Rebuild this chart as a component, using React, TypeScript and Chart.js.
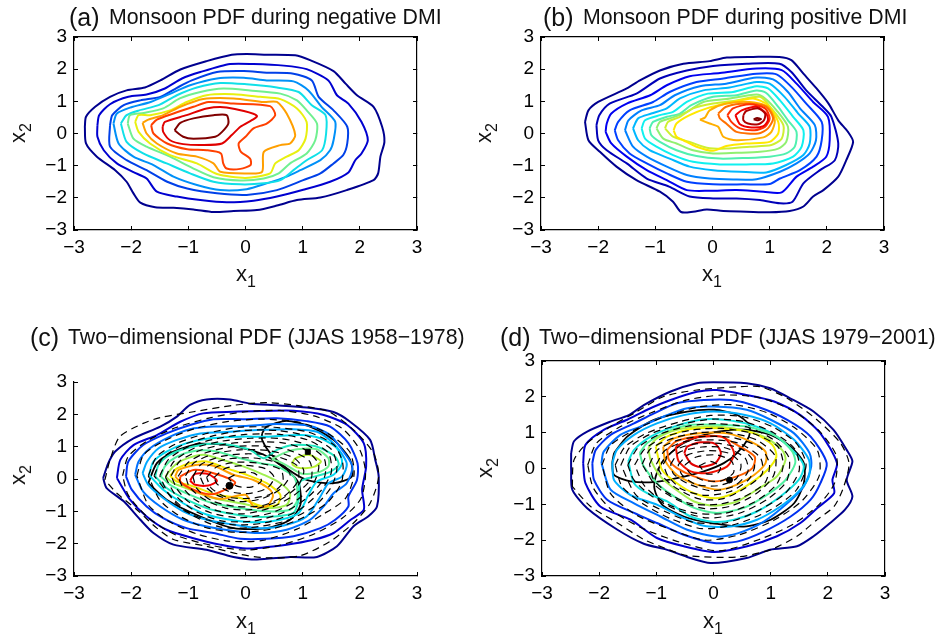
import React, { useEffect, useRef } from "react";
import { Chart, registerables } from "chart.js";

Chart.register(...registerables);

// ---------- tick values and labels ----------
const tickLabels = ["−3", "−2", "−1", "0", "1", "2", "3"];

// ---------- panel (a) contours: flat x1,x2 pairs, outermost first ----------
const a0 = [-2.81,.21,-2.79,.52,-2.63,.83,-2.37,1.14,-2.08,1.34,-1.76,1.43,-1.49,1.65,-1.14,1.99,-.68,2.25,-.24,2.45,.02,2.47,.37,2.45,.87,2.43,1.13,2.28,1.54,1.94,1.75,1.55,1.95,1.19,2.24,.83,2.39,.21,2.43,-.26,2.36,-.72,2.32,-1.24,2.24,-1.45,1.77,-1.76,1.31,-1.99,.9,-2.07,.55,-2.24,.2,-2.38,-.21,-2.41,-.56,-2.44,-.91,-2.36,-1.26,-2.31,-1.58,-2.29,-1.84,-2.15,-1.96,-1.86,-2.08,-1.5,-2.28,-1.14,-2.6,-.72,-2.79,-.31];
const a1 = [-2.59,.26,-2.56,.57,-2.37,.91,-2.05,1.14,-1.73,1.21,-1.41,1.4,-1.11,1.71,-.79,1.91,-.27,2.16,.14,2.16,.67,2.11,1.07,2,1.45,1.65,1.6,1.19,1.8,.93,2.03,.36,2.14,-.21,2.03,-.62,1.92,-.83,1.8,-1.21,1.48,-1.5,1.01,-1.75,.55,-1.96,.14,-2.09,-.33,-2.14,-.79,-2.07,-1.2,-1.96,-1.55,-1.81,-1.73,-1.4,-1.96,-1.2,-2.25,-.93,-2.48,-.52,-2.59,-.1];
const a2 = [-2.37,.26,-2.33,.57,-2.13,.88,-1.84,1.03,-1.49,1.14,-1.2,1.42,-.94,1.65,-.5,1.91,-.03,1.94,.37,1.89,.84,1.86,1.16,1.65,1.28,1.14,1.54,.72,1.78,.21,1.78,-.31,1.71,-.67,1.54,-.93,1.31,-1.24,1.01,-1.45,.55,-1.76,.02,-1.91,-.5,-1.86,-1.02,-1.71,-1.37,-1.5,-1.73,-1.14,-2.08,-.83,-2.37,-.41];
const a3 = [-2.31,.31,-2.25,.62,-2.01,.81,-1.66,.98,-1.31,1.24,-.97,1.5,-.5,1.71,-.03,1.73,.37,1.65,.84,1.62,1.1,1.34,1.33,.83,1.57,.36,1.54,-.21,1.48,-.52,1.31,-.83,.96,-1.14,.72,-1.34,.37,-1.55,.02,-1.73,-.44,-1.76,-.85,-1.6,-1.26,-1.34,-1.61,-.98,-1.96,-.72,-2.22,-.31];
const a4 = [-2.18,.31,-2.08,.57,-1.86,.72,-1.52,.88,-1.2,1.19,-.85,1.43,-.44,1.57,.02,1.53,.55,1.43,.93,1.29,1.16,.88,1.4,.57,1.41,0,1.34,-.52,1.07,-.83,.84,-1.14,.61,-1.45,.32,-1.55,-.09,-1.58,-.56,-1.5,-.97,-1.24,-1.38,-.93,-1.79,-.62,-2.08,-.26];
const a5 = [-2.06,.31,-2.02,.57,-1.78,.64,-1.44,.78,-1.15,1.09,-.79,1.29,-.39,1.4,.08,1.34,.61,1.24,.9,1.03,1.07,.72,1.25,.31,1.22,-.21,1.07,-.62,.78,-.93,.58,-1.24,.32,-1.4,-.09,-1.46,-.56,-1.36,-.91,-1.09,-1.32,-.72,-1.73,-.41,-1.96,-.16];
const a6 = [-1.93,.36,-1.87,.57,-1.67,.57,-1.32,.72,-1.03,.98,-.68,1.19,-.21,1.22,.26,1.14,.61,1.07,.9,.78,1.07,.36,1.05,-.16,.93,-.52,.72,-.72,.52,-.93,.43,-1.24,0,-1.38,-.5,-1.26,-.85,-.93,-1.32,-.67,-1.67,-.31,-1.87,.05];
const a7 = [-1.8,.33,-1.7,.43,-1.44,.57,-1.14,.83,-.74,1.07,-.21,1.09,.32,.98,.55,.98,.72,.62,.87,-.05,.78,-.31,.61,-.36,.32,-.57,.29,-1.19,.02,-1.24,-.44,-1.19,-.56,-.93,-.85,-.72,-1.2,-.62,-1.55,-.31,-1.73,0];
const a8 = [-1.65,.26,-1.55,.43,-1.26,.62,-.91,.83,-.65,.98,-.21,.93,.43,.85,.52,.57,.37,.31,.14,.16,0,-.1,-.12,-.31,-.08,-.57,.08,-.78,.09,-.98,-.09,-1.1,-.33,-1.09,-.39,-.93,-.43,-.62,-.68,-.52,-1.02,-.49,-1.37,-.31,-1.61,0];
const a9 = [-1.45,.21,-1.41,.36,-1.03,.57,-.68,.78,-.33,.81,.2,.55,-.09,.21,-.24,-.05,-.41,-.31,-.74,-.36,-1.09,-.33,-1.32,-.21,-1.44,.05];
const a10 = [-1.24,.1,-1.14,.33,-.91,.47,-.56,.57,-.33,.57,-.3,.31,-.41,.05,-.53,-.1,-.91,-.16,-1.09,-.1];

// ---------- panel (b) contours ----------
const b0 = [-2.23,.36,-2.17,.72,-2,.98,-1.5,1.4,-1.27,1.65,-.92,1.96,-.51,2.17,-.05,2.25,.25,2.36,.71,2.38,1.17,2.38,1.38,2.28,1.59,1.86,1.82,1.4,2.03,.93,2.2,.41,2.37,.05,2.46,-.26,2.34,-.83,2.2,-1.34,1.94,-1.76,1.76,-1.96,1.59,-2.27,1.35,-2.41,1,-2.45,.6,-2.43,.19,-2.41,-.1,-2.36,-.34,-2.43,-.55,-2.44,-.69,-2.12,-.92,-1.81,-1.33,-1.45,-1.68,-1.03,-1.97,-.57,-2.17,-.21];
const b1 = [-2.03,.26,-1.98,.57,-1.8,.93,-1.33,1.24,-.92,1.71,-.45,1.96,.01,2.1,.6,2.17,1.17,2.17,1.38,1.91,1.64,1.34,1.93,.83,2.08,.52,2.2,-.31,2.14,-.83,1.88,-1.14,1.59,-1.55,1.4,-2.12,1.18,-2.17,.83,-2.07,.42,-2.02,.01,-2.02,-.4,-1.96,-.76,-1.65,-1.15,-1.4,-1.5,-.93,-1.85,-.52,-2,-.21];
const b2 = [-1.87,.05,-1.85,.31,-1.77,.62,-1.5,.93,-1.09,1.19,-.8,1.5,-.4,1.78,.13,1.88,.77,2.02,1.21,1.97,1.47,1.55,1.76,.98,2.02,.52,2.05,-.21,1.99,-.72,1.76,-1.03,1.47,-1.34,1.21,-1.83,.89,-1.81,.42,-1.76,-.05,-1.78,-.45,-1.76,-.8,-1.45,-1.15,-1.14,-1.5,-.72,-1.77,-.31];
const b3 = [-1.71,.1,-1.65,.36,-1.45,.72,-1.04,.98,-.75,1.29,-.28,1.6,.19,1.71,.77,1.86,1.12,1.84,1.38,1.45,1.64,.93,1.91,.36,1.91,-.21,1.82,-.72,1.53,-1.14,1.18,-1.4,1,-1.57,.54,-1.58,.01,-1.58,-.45,-1.5,-.8,-1.24,-1.15,-.93,-1.45,-.62,-1.65,-.21];
const b4 = [-1.53,.1,-1.47,.41,-1.24,.72,-.92,.88,-.66,1.19,-.22,1.47,.24,1.55,.77,1.74,1.06,1.68,1.32,1.29,1.53,.78,1.79,.26,1.81,-.21,1.7,-.62,1.47,-.93,1.18,-1.19,.77,-1.42,.36,-1.43,-.05,-1.4,-.45,-1.29,-.8,-1.03,-1.15,-.72,-1.39,-.41];
const b5 = [-1.39,.16,-1.3,.47,-1.07,.62,-.8,.78,-.57,1.09,-.16,1.34,.3,1.43,.77,1.6,1,1.55,1.26,1.14,1.5,.62,1.7,.21,1.7,-.31,1.59,-.67,1.29,-.98,.94,-1.21,.48,-1.19,.01,-1.14,-.4,-1.03,-.75,-.78,-1.1,-.52,-1.3,-.21];
const b6 = [-1.24,.16,-1.18,.41,-.92,.57,-.69,.67,-.45,.98,-.08,1.24,.36,1.29,.77,1.47,.97,1.4,1.18,1.03,1.41,.52,1.59,.1,1.56,-.41,1.41,-.72,1.06,-.93,.59,-.96,.13,-.96,-.34,-.88,-.69,-.67,-.98,-.41,-1.18,-.16];
const b7 = [-1.1,.16,-1.04,.36,-.8,.52,-.57,.62,-.37,.88,.01,1.14,.42,1.19,.77,1.34,.94,1.26,1.15,.83,1.32,.41,1.47,.05,1.44,-.41,1.29,-.62,1,-.72,.59,-.76,.13,-.78,-.28,-.7,-.63,-.52,-.92,-.26,-1.07,-.05];
const b8 = [-.98,.16,-.92,.36,-.69,.5,-.45,.67,-.16,.98,.24,1.07,.77,1.21,.92,1.09,1.12,.72,1.32,.21,1.29,-.26,1.15,-.47,.83,-.57,.42,-.6,.01,-.62,-.34,-.52,-.63,-.31,-.86,-.16];
const b9 = [-.83,.16,-.78,.36,-.57,.52,-.34,.78,.01,.93,.42,1.03,.83,1.14,1.03,.78,1.24,.26,1.21,-.16,1.03,-.36,.65,-.41,.24,-.47,-.1,-.44,-.4,-.26,-.69,-.1];
const b10 = [-.68,.1,-.63,.31,-.4,.57,-.1,.78,.24,.93,.71,1.09,.97,.88,1.15,.36,1.15,0,1,-.26,.59,-.31,.24,-.39,.01,-.54,-.28,-.41,-.51,-.21,-.63,-.1];
const b11 = [-.22,.43,-.13,.5,-.05,.72,.24,.93,.65,.98,.97,.83,1.09,.41,1.03,.05,.89,-.12,.42,-.21,.19,-.1,.1,.21,-.05,.31];
const b12 = [.1,.62,.24,.83,.59,.93,.94,.83,1.06,.47,.97,.16,.8,0,.42,.05,.24,.31,.13,.47];
const b13 = [.26,.57,.36,.78,.65,.91,.92,.78,1,.47,.92,.21,.74,.1,.48,.16,.33,.36];
const b14 = [.4,.57,.51,.72,.77,.83,.94,.62,.97,.41,.89,.23,.68,.19,.48,.29];
const b15 = [.54,.57,.59,.7,.8,.78,.92,.62,.9,.41,.8,.29,.62,.31,.54,.41];
const b16 = [.72,.44,.78,.48,.85,.45,.78,.41];

// ---------- panel (c) solid contours ----------
const c0 = [-2.49,.03,-2.4,.49,-2.28,.85,-1.96,1.26,-1.49,1.62,-1.2,1.93,-.97,2.29,-.68,2.46,-.27,2.46,.08,2.33,.55,2.28,1.07,2.21,1.54,2.07,1.83,1.77,2.18,1.21,2.27,.59,2.33,.08,2.3,-.85,2.15,-1.15,1.89,-1.46,1.6,-2.08,1.25,-2.41,.78,-2.41,.2,-2.49,-.21,-2.41,-.68,-2.19,-1.26,-2.03,-1.61,-1.67,-1.84,-1.26,-2.13,-.69,-2.43,-.28];
const c1 = [-2.25,.03,-2.19,.59,-1.96,1.05,-1.55,1.36,-1.14,1.77,-.74,2.03,-.21,2.08,.26,2.1,.84,2.11,1.37,1.98,1.78,1.67,2.07,1.1,2.11,.39,2.04,-.33,2.07,-.95,1.84,-1.26,1.54,-1.67,1.19,-1.88,.72,-2.03,.02,-2.15,-.44,-2.03,-.91,-1.83,-1.38,-1.57,-1.73,-1.16,-2.02,-.64];
const c2 = [-2.09,.08,-2.05,.54,-1.79,1.05,-1.38,1.41,-.97,1.67,-.56,1.85,-.03,1.85,.55,1.88,1.07,1.79,1.48,1.62,1.8,1.11,1.96,.49,1.95,-.03,1.8,-.54,1.8,-.85,1.57,-1.26,1.31,-1.52,.84,-1.77,.37,-1.85,-.09,-1.85,-.56,-1.67,-1.03,-1.52,-1.44,-1.21,-1.73,-.85,-1.99,-.33];
const c3 = [-1.93,.13,-1.87,.54,-1.67,.95,-1.32,1.31,-.97,1.54,-.56,1.62,-.03,1.64,.55,1.7,1.13,1.64,1.48,1.36,1.71,.85,1.87,.39,1.77,-.13,1.54,-.44,1.39,-.8,1.13,-1.26,.72,-1.57,.26,-1.67,-.27,-1.59,-.68,-1.47,-1.09,-1.26,-1.49,-.85,-1.79,-.39];
const c4 = [-1.8,.18,-1.72,.54,-1.52,.95,-1.2,1.21,-.79,1.41,-.27,1.46,.26,1.52,.84,1.54,1.25,1.46,1.54,1.1,1.77,.49,1.69,.08,1.45,-.13,1.31,-.54,1.07,-1.16,.67,-1.44,.26,-1.52,-.21,-1.41,-.68,-1.26,-1.09,-1,-1.44,-.59,-1.7,-.18];
const c5 = [-1.69,.13,-1.61,.54,-1.38,.85,-1.03,1.11,-.62,1.26,-.09,1.31,.37,1.31,.96,1.36,1.31,1.26,1.6,.95,1.69,.49,1.54,.13,1.25,-.08,1.1,-.49,.93,-1.05,.61,-1.26,.2,-1.34,-.27,-1.26,-.68,-1.1,-1.09,-.75,-1.44,-.33];
const c6 = [-1.58,.08,-1.52,.44,-1.32,.75,-1.03,.95,-.62,1.09,-.27,1.05,.08,.9,.32,.64,.55,.9,.84,1.05,1.25,1,1.57,.69,1.63,.44,1.49,.23,1.22,.08,.96,-.08,.93,-.64,.84,-1.05,.49,-1.16,.08,-1.16,-.33,-1.05,-.68,-.9,-1.03,-.64,-1.38,-.28];
const c7 = [.46,.61,.67,.8,.9,.92,1.25,.92,1.45,.64,1.45,.39,1.28,.21,.99,.16,.75,.39,.58,.54];
const c8 = [-1.48,.08,-1.41,.39,-1.2,.69,-.85,.88,-.5,.85,-.09,.64,.26,.49,.55,.39,.84,.08,.9,-.23,.9,-.69,.78,-.95,.37,-1,-.09,-.9,-.56,-.75,-.97,-.49,-1.32,-.18];
const c9 = [-1.4,.08,-1.26,.39,-1.09,.59,-.74,.75,-.39,.59,-.04,.39,.32,.13,.61,-.13,.78,-.44,.72,-.8,.37,-.9,-.09,-.75,-.56,-.59,-.97,-.33,-1.26,-.13];
const c10 = [.81,.46,.87,.64,1.1,.75,1.25,.64,1.32,.54,1.22,.39,1.05,.33,.9,.36];
const c11 = [-1.32,.1,-1.2,.33,-.97,.49,-.68,.54,-.33,.33,.02,.13,.37,-.13,.61,-.49,.55,-.8,.26,-.83,-.09,-.59,-.5,-.49,-.91,-.23,-1.2,-.08];
const c12 = [-1.23,.08,-1.17,.28,-.85,.44,-.56,.41,-.21,.13,.14,-.03,.43,-.33,.48,-.54,.37,-.85,.14,-.85,0,-.49,-.44,-.62,-.79,-.44,-1.09,-.18];
const c13 = [-1.14,.08,-.91,.28,-.56,.18,-.18,-.11,-.5,-.44,-.68,-.46,-.97,-.28,-1.14,-.08];
const c14 = [-.97,-.05,-.88,.16,-.65,.15,-.5,-.06,-.65,-.2,-.88,-.18];

// panel (c) dashed contours
const cd0 = [-2.46,-.03,-2.37,.59,-2.2,1.31,-1.79,1.72,-1.49,1.9,-.91,2.08,-.21,2.28,.37,2.36,.96,2.26,1.45,2.09,1.89,1.52,2.24,.8,2.33,.08,2.18,-.75,1.89,-1.36,1.48,-1.93,.96,-2.37,.37,-2.44,-.09,-2.33,-.68,-2.08,-1.26,-1.87,-1.55,-1.52,-1.9,-.95,-2.25,-.44];
const cd1 = [-2.15,.1,-2.05,.7,-1.7,1.2,-1.2,1.6,-.6,1.9,0,2.08,.6,2.12,1.2,1.95,1.7,1.55,2,.9,2.1,.2,2.02,-.6,1.7,-1.2,1.2,-1.7,.6,-2.05,0,-2.2,-.6,-2.05,-1.2,-1.75,-1.7,-1.2,-2.05,-.5];
const cd2 = [-1.9,.1,-1.78,.75,-1.4,1.2,-.9,1.55,-.3,1.78,.3,1.85,.95,1.75,1.45,1.4,1.82,.85,1.9,.15,1.75,-.6,1.35,-1.1,.9,-1.55,.3,-1.9,-.3,-1.92,-.85,-1.7,-1.35,-1.3,-1.7,-.8];
const cd3 = [-1.7,.1,-1.55,.7,-1.2,1.1,-.7,1.4,-.1,1.6,.5,1.6,1.1,1.45,1.55,1.05,1.7,.5,1.68,-.1,1.45,-.7,1,-1.2,.45,-1.55,-.15,-1.65,-.7,-1.5,-1.15,-1.15,-1.5,-.65];
const cd4 = [-1.5,.1,-1.35,.6,-1,1,-.5,1.25,0,1.38,.6,1.38,1.1,1.2,1.45,.8,1.5,.2,1.3,-.4,.9,-1,.35,-1.35,-.2,-1.42,-.7,-1.25,-1.1,-.95,-1.35,-.45];
const cd5 = [-1.3,.1,-1.15,.55,-.8,.88,-.35,1.08,.15,1.15,.65,1.12,1.05,.9,1.28,.45,1.2,-.1,.9,-.65,.45,-1.05,-.1,-1.2,-.6,-1.05,-1,-.7,-1.2,-.3];
const cd6 = [-1.05,.1,-.9,.5,-.55,.78,-.1,.9,.4,.88,.85,.65,1.02,.25,.9,-.25,.55,-.7,.1,-.95,-.35,-.9,-.75,-.6,-.98,-.25];
const cd7 = [-.8,.1,-.65,.42,-.3,.62,.15,.65,.55,.5,.78,.15,.62,-.3,.3,-.6,-.1,-.7,-.5,-.5,-.72,-.2];
const cd8 = [-.55,.05,-.35,.33,0,.42,.35,.32,.5,.05,.38,-.28,.05,-.45,-.3,-.38,-.5,-.15];
const cd9 = [-.3,.02,-.1,.2,.15,.18,.28,-.05,.1,-.25,-.15,-.22];
const cd10 = [-1.6,.1,-1.45,.65,-1.1,1.05,-.6,1.32,-.05,1.5,.55,1.5,1.1,1.32,1.5,.92,1.6,.35,1.5,-.25,1.2,-.85,.7,-1.3,.1,-1.5,-.45,-1.48,-.95,-1.1,-1.3,-.55];
const cd11 = [-1.4,.05,-1.25,.55,-.9,.95,-.42,1.17,.1,1.26,.62,1.25,1.08,1.05,1.38,.62,1.38,.05,1.1,-.55,.68,-1.02,.15,-1.3,-.4,-1.3,-.85,-1.02,-1.2,-.55];
const cd12 = [-1.18,.08,-1,.52,-.68,.82,-.22,1,.28,1.02,.75,.9,1.12,.55,1.15,.02,.85,-.5,.42,-.9,-.05,-1.08,-.5,-.98,-.9,-.62,-1.1,-.25];
const cd13 = [-.92,.08,-.78,.45,-.42,.7,.02,.78,.5,.72,.9,.42,.92,-.05,.7,-.5,.3,-.82,-.15,-.85,-.58,-.68,-.85,-.3];
const cd14 = [-.68,.05,-.5,.38,-.15,.52,.28,.48,.62,.28,.65,-.12,.42,-.48,.05,-.6,-.35,-.55,-.6,-.28];

// panel (c) black regime curves and centres
const ce0 = [-1.7,-.13,-1.55,.49,-1.26,.85,-.79,1.09,-.21,1.02,.32,.75,.72,.28,.93,-.13,.96,-.8,.78,-1.26,.37,-1.52,-.21,-1.52,-.79,-1.16,-1.38,-.64];
const ce1 = [.29,1.41,.37,1.62,.72,1.8,1.13,1.62,1.54,1.21,1.83,.59,1.86,.08,1.54,-.13,1.07,-.03,.72,.33,.43,.8,.29,1.21];
const cDot = [-.28,-.21];
const cSquare = [1.09,.84];

// ---------- panel (d) solid contours ----------
const d0 = [-2.49,.43,-2.44,.76,-2.21,1.03,-1.8,1.31,-1.48,1.49,-1.22,1.77,-.75,2.15,-.29,2.38,0,2.41,.58,2.38,.99,2.24,1.34,1.96,1.75,1.59,2.1,1.08,2.33,.52,2.43,.2,2.33,-.32,2.43,-.78,2.3,-1.15,2.04,-1.52,1.75,-1.89,1.46,-2.17,.99,-2.27,.58,-2.5,-.05,-2.64,-.46,-2.47,-.81,-2.27,-1.22,-2.1,-1.68,-1.71,-2.21,-1.11,-2.47,-.59,-2.49,-.04];
const d1 = [-2.28,.15,-2.24,.66,-1.92,1.08,-1.51,1.36,-1.16,1.64,-.75,1.91,-.29,2.14,.06,2.19,.58,2.05,1.06,1.87,1.52,1.49,1.87,.98,2.16,.15,2.08,-.32,2.11,-.69,1.81,-1.11,1.52,-1.52,1.11,-1.89,.59,-2.17,.01,-2.33,-.52,-2.17,-.99,-1.94,-1.45,-1.43,-1.98,-1.06,-2.24,-.41];
const d2 = [-2.12,.15,-2.06,.52,-1.8,.94,-1.39,1.26,-1.04,1.54,-.64,1.82,-.17,1.91,.3,1.91,.76,1.73,1.29,1.36,1.7,.89,1.98,.15,1.87,-.41,1.7,-.87,1.35,-1.34,.88,-1.76,.41,-2.04,.01,-2.08,-.52,-1.85,-.99,-1.52,-1.39,-1.24,-1.86,-.87,-2.09,-.32];
const d3 = [-1.96,.15,-1.92,.47,-1.63,.94,-1.28,1.17,-.87,1.45,-.46,1.68,0,1.73,.58,1.64,1,1.36,1.41,.98,1.68,.43,1.71,.06,1.58,-.5,1.29,-.97,.88,-1.48,.42,-1.81,.06,-1.9,-.46,-1.71,-.93,-1.34,-1.39,-.97,-1.8,-.59];
const d4 = [-1.77,.15,-1.69,.52,-1.39,.94,-.99,1.26,-.52,1.49,0,1.59,.53,1.5,1,1.26,1.41,.8,1.67,.24,1.67,-.22,1.49,-.64,1.17,-1.06,.76,-1.43,.3,-1.62,-.17,-1.6,-.58,-1.34,-.99,-1.01,-1.45,-.74,-1.74,-.32];
const d5 = [-1.49,.2,-1.39,.52,-1.1,.89,-.69,1.17,-.23,1.36,.18,1.36,.65,1.22,1.06,.94,1.43,.43,1.58,.06,1.49,-.32,1.17,-.78,.76,-1.2,.36,-1.43,.01,-1.49,-.4,-1.34,-.81,-.92,-1.16,-.69,-1.39,-.41];
const d6 = [-1.29,.43,-1.16,.71,-.81,1.03,-.4,1.22,.06,1.22,.59,1.17,1.11,.89,1.38,.47,1.43,.15,1.26,-.32,.94,-.73,.53,-1.1,.06,-1.24,-.34,-1.1,-.69,-.78,-.99,-.41,-1.22,.06];
const d7 = [-1.14,.57,-.99,.84,-.64,1.08,-.17,1.17,.36,1.12,.88,.89,1.2,.52,1.26,.24,1.11,-.22,.76,-.59,.41,-.92,.03,-1.04,-.34,-.92,-.69,-.55,-.93,-.22,-1.1,.24];
const d8 = [-1.01,.61,-.81,.89,-.4,1.1,.12,1.12,.71,.98,1.03,.66,1.1,.33,.94,-.04,.65,-.41,.36,-.69,.03,-.83,-.34,-.69,-.64,-.41,-.9,-.04];
const d9 = [-.88,.61,-.69,.84,-.29,.98,.24,.98,.65,.75,.91,.47,.91,.15,.71,-.18,.41,-.45,.09,-.59,-.29,-.45,-.64,-.18,-.84,.2];
const d10 = [-.81,.52,-.66,.75,-.29,.89,.12,.89,.41,.66,.72,.33,.68,.01,.41,-.22,.01,-.36,-.34,-.22,-.64,.01,-.78,.24];
const d11 = [-.66,.61,-.4,.82,-.17,.89,.18,.87,.36,.43,.24,.06,-.11,-.13,-.4,-.08,-.61,.2];
const d12 = [-.51,.43,-.46,.61,-.23,.73,.03,.69,.13,.43,.03,.15,-.23,.04,-.4,.15];

// panel (d) dashed contours
const dd0 = [-2.47,-.5,-2.44,.24,-2.21,.71,-1.8,1.17,-1.39,1.54,-.87,2.01,-.29,2.19,.41,2.28,.82,2.28,1.29,1.96,1.81,1.36,2.22,.71,2.37,.15,2.28,-.5,2.11,-1.06,1.81,-1.43,1.46,-1.89,.99,-2.27,.41,-2.47,-.46,-2.43,-.87,-2.21,-1.22,-1.98,-1.68,-1.52,-2.15,-1.06];
const dd1 = [-2.2,.1,-2.05,.7,-1.65,1.15,-1.1,1.55,-.5,1.9,.15,2.05,.8,1.98,1.4,1.6,1.85,1.05,2.15,.35,2.12,-.4,1.85,-1,1.4,-1.55,.8,-1.98,.1,-2.3,-.6,-2.05,-1.2,-1.7,-1.75,-1.2,-2.1,-.55];
const dd2 = [-1.95,.1,-1.8,.65,-1.35,1.1,-.85,1.45,-.25,1.72,.35,1.78,.95,1.55,1.45,1.1,1.82,.5,1.85,-.2,1.55,-.9,1.05,-1.45,.45,-1.85,-.15,-2,-.75,-1.7,-1.35,-1.3,-1.8,-.7];
const dd3 = [-1.72,.1,-1.55,.6,-1.15,1,-.6,1.3,-.05,1.48,.5,1.45,1.05,1.15,1.45,.7,1.62,.1,1.45,-.6,1,-1.15,.4,-1.55,-.2,-1.68,-.75,-1.4,-1.2,-1.02,-1.6,-.5];
const dd4 = [-1.5,.1,-1.32,.58,-.95,.95,-.45,1.18,.05,1.25,.6,1.15,1.05,.8,1.32,.3,1.28,-.35,.95,-.85,.45,-1.25,-.1,-1.38,-.65,-1.15,-1.1,-.75,-1.4,-.3];
const dd5 = [-1.25,.12,-1.1,.55,-.7,.85,-.25,1,.25,1,.75,.8,1.08,.35,1.05,-.2,.75,-.7,.3,-1.05,-.15,-1.12,-.6,-.9,-1,-.5];
const dd6 = [-1,.12,-.85,.5,-.5,.75,0,.8,.45,.7,.82,.3,.85,-.15,.55,-.55,.15,-.85,-.25,-.85,-.65,-.55,-.9,-.2];
const dd7 = [-.75,.12,-.6,.45,-.2,.6,.2,.58,.55,.3,.6,-.1,.35,-.5,-.05,-.62,-.45,-.42,-.7,-.15];
const dd8 = [-.5,.1,-.3,.32,.05,.38,.32,.2,.35,-.12,.12,-.35,-.2,-.32,-.42,-.12];
const dd9 = [-.25,.08,-.05,.2,.12,.05,.08,-.12,-.12,-.15];
const dd10 = [-1.62,.1,-1.45,.62,-1.05,1,-.52,1.25,0,1.38,.55,1.3,1.05,1,1.42,.55,1.5,-.05,1.25,-.7,.75,-1.2,.2,-1.52,-.35,-1.5,-.85,-1.2,-1.35,-.75];
const dd11 = [-1.38,.1,-1.2,.55,-.82,.9,-.35,1.08,.15,1.12,.68,.98,1.12,.62,1.22,.1,1.1,-.45,.7,-.95,.2,-1.25,-.3,-1.25,-.8,-1,-1.2,-.5];
const dd12 = [-1.12,.12,-.98,.52,-.6,.8,-.12,.9,.38,.85,.82,.58,.98,.12,.9,-.4,.52,-.8,.08,-1,-.4,-.98,-.8,-.68,-1.05,-.3];
const dd13 = [-.88,.12,-.72,.48,-.35,.68,.1,.7,.52,.52,.72,.12,.62,-.3,.28,-.65,-.15,-.75,-.55,-.58,-.8,-.2];
const dd14 = [-.62,.1,-.45,.38,-.08,.5,.28,.42,.48,.12,.4,-.28,.08,-.48,-.3,-.45,-.55,-.18];

// panel (d) black regime curves and centre
const de0 = [-1.74,.43,-1.51,.89,-1.04,1.36,-.46,1.59,.01,1.64,.41,1.5,.62,1.22,.62,.89,.41,.43,.18,.15,-.17,-.08,-.64,-.27,-1.04,-.38,-1.45,-.36,-1.74,-.18,-1.77,.15];
const de1 = [.62,1.08,1,.94,1.35,.61,1.58,.15,1.58,-.41,1.41,-.97,1,-1.43,.53,-1.62,-.05,-1.52,-.52,-1.34,-.9,-1.01,-1.03,-.59,-1.01,-.22,-.87,.24,-.52,.71,-.05,.99,.36,1.08];
const dDot = [.28,-.32];

// ---------- styles ----------
const JET_A = ["#00008f","#0000d0","#0040e8","#0090f8","#10e0e8","#70f090","#e8f010","#ff9f00","#ff4000","#e00000","#800000"];
const JET_B = ["#00008f","#0000b8","#0000f0","#0040ff","#0080ff","#00b8ff","#10f0ef","#50f0af","#90f070","#cfef30","#ffe800","#ffaf00","#ff7000","#ff3000","#ef0000","#af0000","#800000"];
const JET_C = ["#00008f","#0000d0","#0030f0","#0070ff","#00a8ff","#00d8f0","#20e8c0","#70f090","#50f0a0","#a0f050","#b8f030","#f0e800","#ffa000","#ff4000","#f00000"];
const JET_D = ["#00008f","#0000d0","#0030f0","#0070ff","#00b0ff","#10e0e0","#50f0a0","#a8f050","#f0f000","#ffa000","#ff6000","#f01000","#e00000"];

const FONT = '"Liberation Sans", Arial, sans-serif';

type P = { x: number; y: number };
const ring = (f: number[]): P[] => {
  const out: P[] = [];
  for (let i = 0; i < f.length; i += 2) out.push({ x: f[i], y: f[i + 1] });
  out.push({ x: f[0], y: f[1] });
  return out;
};
const solid = (f: number[], color: string, w = 2) => ({
  data: ring(f), borderColor: color, borderWidth: w, showLine: true, pointRadius: 0, tension: 0.25, fill: false,
});
const dashed = (f: number[]) => ({
  data: ring(f), borderColor: "#000", borderWidth: 1.2, borderDash: [7, 5], showLine: true, pointRadius: 0, tension: 0.25, fill: false,
});
const marker = (p: number[], style: string, r: number) => ({
  data: [{ x: p[0], y: p[1] }], pointStyle: style, pointRadius: r, pointBackgroundColor: "#000", pointBorderColor: "#000", showLine: false,
});

type Panel = {
  left: number; top: number; w: number; h: number;
  pl: number; pt: number; pr: number; pb: number; box: boolean; datasets: any[];
};

const panels: Panel[] = [
  { left: 0, top: 0, w: 470, h: 265, pl: 74, pt: 37, pr: 417, pb: 230, box: true,
    datasets: [a10,a9,a8,a7,a6,a5,a4,a3,a2,a1,a0].map((c, i) => solid(c, JET_A[10 - i])) },
  { left: 470, top: 0, w: 469, h: 265, pl: 71, pt: 37, pr: 414, pb: 230, box: true,
    datasets: [b16,b15,b14,b13,b12,b11,b10,b9,b8,b7,b6,b5,b4,b3,b2,b1,b0].map((c, i) => solid(c, JET_B[16 - i])) },
  { left: 0, top: 320, w: 470, h: 285, pl: 74, pt: 62, pr: 417, pb: 256, box: false,
    datasets: [
      marker(cDot, "circle", 3.5), marker(cSquare, "rect", 3.5),
      ...[cd0,cd1,cd2,cd3,cd4,cd5,cd6,cd7,cd8,cd9,cd10,cd11,cd12,cd13,cd14].map(dashed),
      ...[c14,c13,c12,c11,c10,c9,c8,c7,c6,c5,c4,c3,c2,c1,c0].map((c, i) => solid(c, JET_C[14 - i])),
      solid(ce0, "#000", 1.8), solid(ce1, "#000", 1.8),
    ] },
  { left: 470, top: 320, w: 469, h: 285, pl: 72, pt: 41, pr: 415, pb: 256, box: true,
    datasets: [
      marker(dDot, "circle", 3),
      ...[dd0,dd1,dd2,dd3,dd4,dd5,dd6,dd7,dd8,dd9,dd10,dd11,dd12,dd13,dd14].map(dashed),
      ...[d12,d11,d10,d9,d8,d7,d6,d5,d4,d3,d2,d1,d0].map((c, i) => solid(c, JET_D[12 - i])),
      solid(de0, "#000", 1.8), solid(de1, "#000", 1.8),
    ] },
];

const PanelChart = ({ p }: { p: Panel }) => {
  const ref = useRef<HTMLCanvasElement>(null);
  useEffect(() => {
    const range = { min: -3, max: 3 };
    const step = { stepSize: 1, autoSkip: false, maxRotation: 0 };
    const grid = { drawOnChartArea: false, tickLength: -4, color: "#000", lineWidth: 1 };
    const border = { color: "#000", width: 1.2 };
    const tickText = (_: any, i: number) => tickLabels[i];
    const scales: any = {
      x: { type: "linear", position: "bottom", ...range, grid, border,
        ticks: { ...step, padding: 10, color: "#000", font: { family: FONT, size: 19 }, callback: tickText },
        afterFit: (s: any) => { s.height = p.h - p.pb; } },
      y: { type: "linear", position: "left", ...range, grid, border,
        ticks: { ...step, padding: 11, color: "#000", font: { family: FONT, size: 19 }, callback: tickText },
        afterFit: (s: any) => { s.width = p.pl; } },
    };
    if (p.box) {
      scales.x2 = { type: "linear", position: "top", ...range, grid, border,
        ticks: { ...step, display: false }, afterFit: (s: any) => { s.height = 0; } };
      scales.y2 = { type: "linear", position: "right", ...range, grid, border,
        ticks: { ...step, display: false }, afterFit: (s: any) => { s.width = 0; } };
    }
    const chart = new Chart(ref.current!, {
      type: "scatter",
      data: { datasets: p.datasets },
      options: {
        animation: false,
        responsive: false,
        layout: { padding: { left: 0, top: p.pt, right: p.w - p.pr, bottom: 0 } },
        plugins: { legend: { display: false }, tooltip: { enabled: false }, title: { display: false } },
        scales,
      },
    } as any);
    return () => chart.destroy();
  }, [p]);
  return (
    <canvas ref={ref} width={p.w} height={p.h}
      style={{ position: "absolute", left: p.left, top: p.top, width: p.w, height: p.h }} />
  );
};

const Txt = ({ x, y, size, children, rot }: { x: number; y: number; size: number; children: React.ReactNode; rot?: boolean }) => (
  <span style={{
    position: "absolute", left: x, top: y, fontFamily: FONT, fontSize: size, lineHeight: 1, whiteSpace: "nowrap", color: "#111",
    transform: rot ? "translate(-50%,-50%) rotate(-90deg)" : undefined,
  }}>{children}</span>
);

const Sub = ({ s }: { s: string }) => (
  <span style={{ fontSize: 16, position: "relative", top: 6 }}>{s}</span>
);

const titles = [
  { tag: "(a)", tx: 69, text: "Monsoon PDF during negative DMI", mx: 109, y: 6 },
  { tag: "(b)", tx: 543, text: "Monsoon PDF during positive DMI", mx: 583, y: 6 },
  { tag: "(c)", tx: 30, text: "Two−dimensional PDF (JJAS 1958−1978)", mx: 68, y: 326 },
  { tag: "(d)", tx: 500, text: "Two−dimensional PDF (JJAS 1979−2001)", mx: 539, y: 326 },
];
const xLabels = [{ x: 236, y: 263 }, { x: 702, y: 263 }, { x: 236, y: 610 }, { x: 703, y: 610 }];
const yLabels = [{ x: 18, y: 133 }, { x: 484, y: 133 }, { x: 18, y: 475 }, { x: 485, y: 468 }];

export default function App() {
  return (
    <div style={{ position: "absolute", left: 0, top: 0, width: 939, height: 637, background: "#fff", overflow: "hidden" }}>
      {panels.map((p, i) => <PanelChart key={i} p={p} />)}
      {titles.map((t, i) => (
        <React.Fragment key={i}>
          <Txt x={t.tx} y={t.y - 1.5} size={25}>{t.tag}</Txt>
          <Txt x={t.mx} y={t.y + 1} size={21.3}>{t.text}</Txt>
        </React.Fragment>
      ))}
      {xLabels.map((l, i) => <Txt key={i} x={l.x} y={l.y} size={22}>x<Sub s="1" /></Txt>)}
      {yLabels.map((l, i) => <Txt key={i} x={l.x} y={l.y} size={22} rot>x<Sub s="2" /></Txt>)}
    </div>
  );
}
